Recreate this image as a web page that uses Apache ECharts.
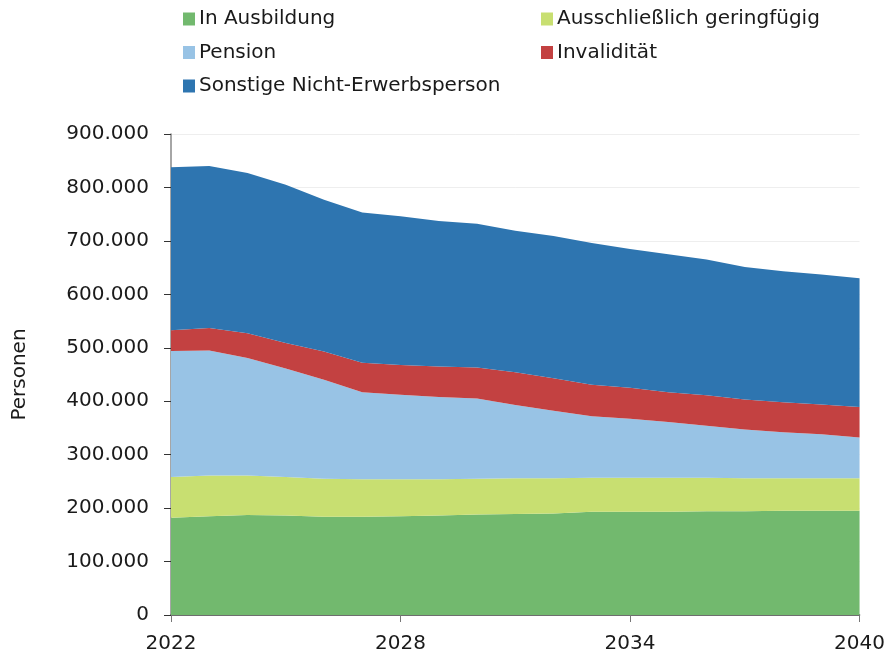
<!DOCTYPE html>
<html>
<head>
<meta charset="utf-8">
<script src="https://cdn.jsdelivr.net/npm/echarts@6/dist/echarts.min.js"></script>
<style>html,body{margin:0;padding:0;background:#fff}#c{width:888px;height:656px}</style>
</head>
<body>
<div id="c"></div>
<script>
const years = ['2022','2023','2024','2025','2026','2027','2028','2029','2030','2031','2032','2033','2034','2035','2036','2037','2038','2039','2040'];
const ausbildung = [182000,185000,187000,186000,184000,184000,185000,186000,188000,189000,190000,193000,193000,193000,194000,194000,195000,195000,195000];
const geringfuegig = [76000,76000,74000,72000,71000,70000,69000,68000,67000,67000,66000,64000,64000,64000,63000,62000,61000,61000,61000];
const pension = [236000,234000,220000,203000,185000,163000,158000,154000,150000,137000,126000,115000,110000,104000,97000,91000,86000,82000,76000];
const invaliditaet = [39000,42000,46000,48000,53000,55000,56000,57000,58000,61000,61000,59000,58000,56000,57000,56000,56000,56000,57000];
const sonstige = [305000,303000,300000,296000,284000,281000,278000,272000,269000,265000,266000,265000,260000,258000,254000,248000,245000,243000,241000];
const names = ['In Ausbildung','Ausschließlich geringfügig','Pension','Invalidität','Sonstige Nicht-Erwerbsperson'];
const colors = ['#72B96E','#C8DF71','#98C3E5','#C34141','#2E75B0'];
const seriesData = [ausbildung, geringfuegig, pension, invaliditaet, sonstige];

const FONT = 'DejaVu Sans';
function fmt(v){ return String(v).replace(/\B(?=(\d{3})+(?!\d))/g,'.'); }

const chart = echarts.init(document.getElementById('c'), null, {renderer:'canvas'});
const legendText = {fontFamily: FONT, fontSize: 20, color: '#1a1a1a', padding:[0,0,0,-1]};
chart.setOption({
  animation: false,
  color: colors,
  textStyle: {fontFamily: FONT},
  legend: [
    {data:[names[0],names[2],names[4]], orient:'vertical', left:178, top:4, itemWidth:12, itemHeight:13, itemGap:13.5, icon:'rect', textStyle:legendText, selectedMode:false},
    {data:[names[1],names[3]], orient:'vertical', left:536, top:4, itemWidth:12, itemHeight:13, itemGap:13.5, icon:'rect', textStyle:legendText, selectedMode:false}
  ],
  grid: {left:171, right:27, top:134, bottom:41, containLabel:false},
  xAxis: {
    type:'category', data: years, boundaryGap:false,
    axisLine:{lineStyle:{color:'#444', width:1.5}},
    axisTick:{interval:5, length:7, inside:false, lineStyle:{color:'#777'}},
    axisLabel:{interval:5, fontFamily:FONT, fontSize:20, color:'#1a1a1a', margin:19},
    splitLine:{show:false}
  },
  yAxis: {
    type:'value', min:0, max:900000, interval:100000,
    name:'Personen', nameLocation:'middle', nameGap:141, nameRotate:90,
    nameTextStyle:{fontFamily:FONT, fontSize:20, color:'#1a1a1a'},
    axisLine:{show:true, lineStyle:{color:'#888', width:1.5}},
    axisTick:{show:true, length:7, lineStyle:{color:'#333'}},
    axisLabel:{formatter: v => fmt(v), fontFamily:FONT, fontSize:20, color:'#1a1a1a', margin:22},
    splitLine:{show:true, lineStyle:{color:'#eee'}}
  },
  series: seriesData.map((d,i)=>({
    name:names[i], type:'line', stack:'total', data:d, symbol:'none',
    lineStyle:{width:0}, areaStyle:{color:colors[i], opacity:1}, itemStyle:{color:colors[i]}
  }))
});
</script>
</body>
</html>
